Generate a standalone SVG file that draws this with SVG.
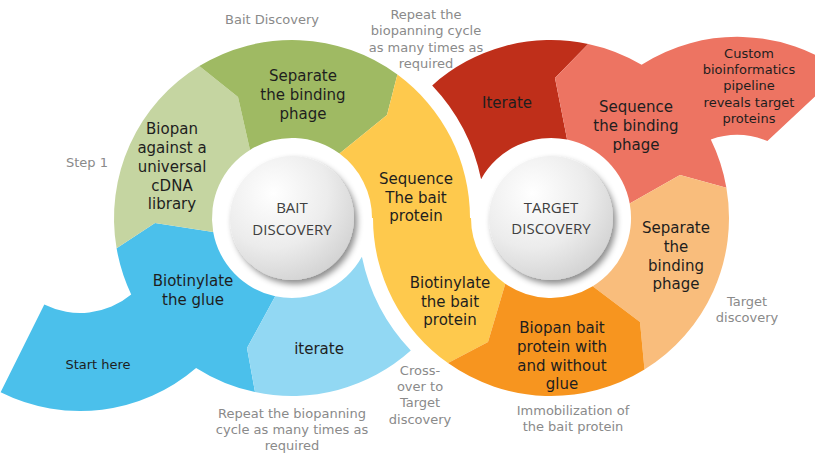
<svg xmlns="http://www.w3.org/2000/svg" width="815" height="461" viewBox="0 0 815 461">
<defs>
<radialGradient id="hub" cx="0.35" cy="0.3" r="0.8">
<stop offset="0" stop-color="#ffffff"/>
<stop offset="0.55" stop-color="#ececec"/>
<stop offset="1" stop-color="#cfcfcf"/>
</radialGradient>
<filter id="sh" x="-30%" y="-30%" width="160%" height="160%">
<feDropShadow dx="3" dy="4" stdDeviation="3" flood-color="#000" flood-opacity="0.45"/>
</filter>
<style>
.t{font-family:"DejaVu Sans",sans-serif;font-size:15px;fill:#1e1e1e;text-anchor:middle}
.s{font-size:13px}
.g{font-family:"DejaVu Sans",sans-serif;font-size:13px;fill:#8a8a8a;text-anchor:middle}
.c{font-family:"Open Sans","Liberation Sans",sans-serif;font-size:15px;fill:#404040;text-anchor:middle}
</style>
</defs>
<rect width="815" height="461" fill="#ffffff"/>

<g id="blue-start">
<path fill="#4bc0eb" d="M213.2,231.9 L155,223 L116.6,248.3 A178,178 0 0 0 131.2,294.4 A80,80 0 0 1 44.3,304.6 L0.6,392.3 A178,178 0 0 0 196.1,368 A178,178 0 0 0 255,392.1 L247,348 L275.2,296.2 A80,80 0 0 1 213.2,231.9 Z"/>
<text class="t"><tspan x="193" y="286">Biotinylate</tspan><tspan x="193" y="305">the glue</tspan></text>
<text class="t s" x="98" y="369">Start here</text>
</g>

<g id="lightgreen-biopan">
<path fill="#c5d5a1" d="M116.6,248.3 A178,178 0 0 1 199.3,66.1 L238,97 L250,149.9 A80,80 0 0 0 213.2,231.9 L155,223 Z"/>
<text class="t"><tspan x="172" y="134">Biopan</tspan><tspan x="172" y="153">against a</tspan><tspan x="172" y="172">universal</tspan><tspan x="172" y="191">cDNA</tspan><tspan x="172" y="209">library</tspan></text>
</g>

<g id="green-separate">
<path fill="#9fba63" d="M199.3,66.1 A178,178 0 0 1 397.4,74.5 L387,115 L339.5,153.6 A80,80 0 0 0 250,149.9 L238,97 Z"/>
<text class="t"><tspan x="303" y="81">Separate</tspan><tspan x="303" y="100">the binding</tspan><tspan x="303" y="119">phage</tspan></text>
</g>

<g id="yellow-sequence">
<path fill="#fec94d" d="M397.4,74.5 A178,178 0 0 1 470,218 L471,218 A80,80 0 0 0 505.3,283.7 L488,342 L448,363.1 A178,178 0 0 1 373,218 L372,218 A80,80 0 0 0 339.5,153.6 L387,115 Z"/>
<text class="t"><tspan x="416" y="184">Sequence</tspan><tspan x="416" y="203">The bait</tspan><tspan x="416" y="221">protein</tspan></text>
<text class="t"><tspan x="450" y="288">Biotinylate</tspan><tspan x="450" y="307">the bait</tspan><tspan x="450" y="325">protein</tspan></text>
</g>

<g id="lightblue-iterate">
<path fill="#92d8f3" d="M275.2,296.2 L247,348 L255,392.1 A178,178 0 0 0 410.8,350.6 A193,193 0 0 1 361.9,256.8 A80,80 0 0 1 275.2,296.2 Z"/>
<text class="t" x="319" y="354">iterate</text>
</g>

<g id="darkred-iterate">
<path fill="#bf2f1a" d="M432.2,85.4 A178,178 0 0 1 588.2,43.9 L555,78 L567.1,139.6 A80,80 0 0 0 481.1,179.2 A193,193 0 0 0 432.2,85.4 Z"/>
<text class="t" x="507" y="108">Iterate</text>
</g>

<g id="salmon-sequence">
<path fill="#ed7462" d="M567.1,139.6 L555,78 L588.2,43.9 A178,178 0 0 1 641.6,64.7 A178,178 0 0 1 842.2,71 L767.4,141 A80,80 0 0 0 710.8,139.4 A178,178 0 0 1 726.4,187.7 L680,175 L629.7,203.4 A80,80 0 0 0 567.1,139.6 Z"/>
<text class="t"><tspan x="636" y="112">Sequence</tspan><tspan x="636" y="131">the binding</tspan><tspan x="636" y="150">phage</tspan></text>
<text class="t s"><tspan x="749" y="58">Custom</tspan><tspan x="749" y="74">bioinformatics</tspan><tspan x="749" y="90">pipeline</tspan><tspan x="749" y="107">reveals target</tspan><tspan x="749" y="123">proteins</tspan></text>
</g>

<g id="peach-separate">
<path fill="#f9bd7c" d="M629.7,203.4 L680,175 L726.4,187.7 A178,178 0 0 1 644.5,369.5 L640,322 L592.7,286.3 A80,80 0 0 0 629.7,203.4 Z"/>
<text class="t"><tspan x="676" y="233">Separate</tspan><tspan x="676" y="252">the</tspan><tspan x="676" y="271">binding</tspan><tspan x="676" y="289">phage</tspan></text>
</g>

<g id="orange-biopan">
<path fill="#f7951f" d="M592.7,286.3 L640,322 L644.5,369.5 A178,178 0 0 1 448,363.1 L488,342 L505.3,283.7 A80,80 0 0 0 592.7,286.3 Z"/>
<text class="t"><tspan x="562" y="333">Biopan bait</tspan><tspan x="562" y="352">protein with</tspan><tspan x="562" y="371">and without</tspan><tspan x="562" y="389">glue</tspan></text>
</g>

<g id="hub-bait">
<circle cx="292" cy="218" r="62" fill="url(#hub)" filter="url(#sh)"/>
<text class="c"><tspan x="292" y="213">BAIT</tspan><tspan x="292" y="235">DISCOVERY</tspan></text>
</g>

<g id="hub-target">
<circle cx="551" cy="218" r="62" fill="url(#hub)" filter="url(#sh)"/>
<text class="c"><tspan x="551" y="213">TARGET</tspan><tspan x="551" y="234">DISCOVERY</tspan></text>
</g>

<g id="labels">
<text class="g" x="272" y="24">Bait Discovery</text>
<text class="g" x="87" y="167">Step 1</text>
<text class="g"><tspan x="426" y="19">Repeat the</tspan><tspan x="426" y="35">biopanning cycle</tspan><tspan x="426" y="52">as many times as</tspan><tspan x="426" y="68">required</tspan></text>
<text class="g"><tspan x="292" y="418">Repeat the biopanning</tspan><tspan x="292" y="434">cycle as many times as</tspan><tspan x="292" y="450">required</tspan></text>
<text class="g"><tspan x="420" y="375">Cross-</tspan><tspan x="420" y="391">over to</tspan><tspan x="420" y="407">Target</tspan><tspan x="420" y="424">discovery</tspan></text>
<text class="g"><tspan x="573" y="415">Immobilization of</tspan><tspan x="573" y="431">the bait protein</tspan></text>
<text class="g"><tspan x="747" y="306">Target</tspan><tspan x="747" y="322">discovery</tspan></text>
</g>
</svg>
